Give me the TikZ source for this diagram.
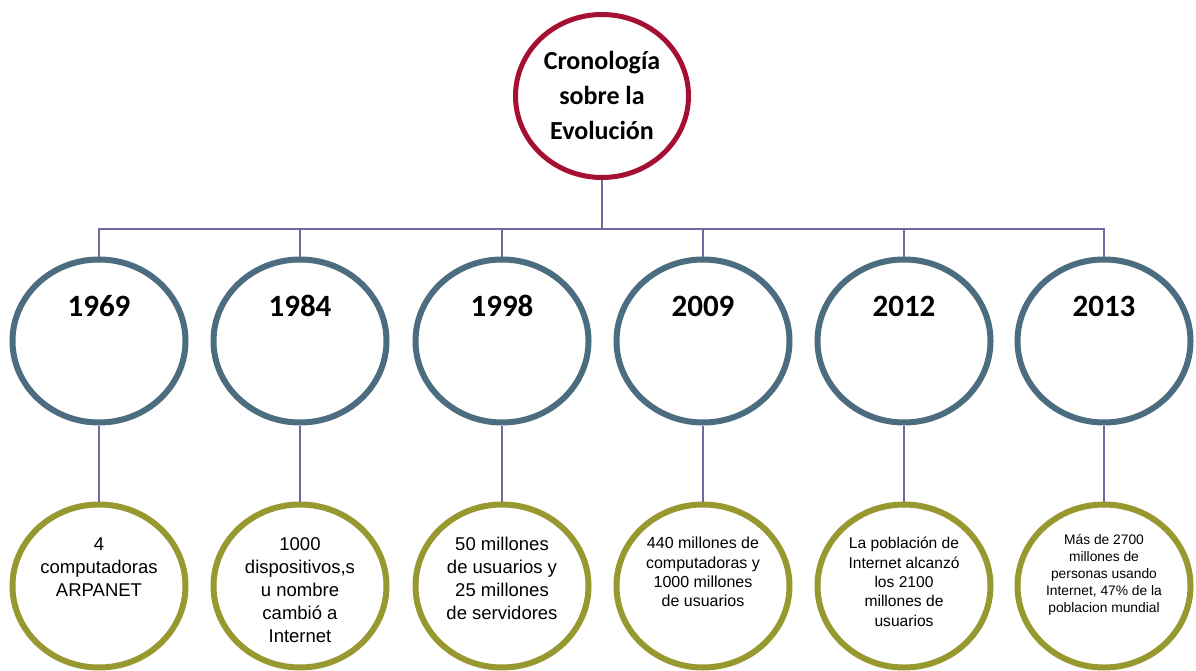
\documentclass[tikz,border=0pt]{standalone}
\usepackage{fontspec}
\setmainfont{Liberation Sans}
\newfontfamily\calib{Carlito}
\usetikzlibrary{shapes.geometric}
\definecolor{topred}{RGB}{165,15,50}
\definecolor{yearblue}{RGB}{76,108,128}
\definecolor{infoolive}{RGB}{152,152,48}
\definecolor{connline}{RGB}{110,105,160}
\tikzset{
  ring/.style={ellipse, minimum width=173, minimum height=163, inner sep=0pt, fill=white},
  topring/.style={ring, draw=topred, line width=5pt},
  yearring/.style={ring, draw=yearblue, line width=6pt},
  inforing/.style={ring, draw=infoolive, line width=6pt},
  conn/.style={draw=connline, line width=1.6pt},
  titletext/.style={font=\calib\bfseries\fontsize{26}{35}\selectfont, align=center, inner sep=0pt},
  yeartext/.style={font=\calib\bfseries\fontsize{31}{36}\selectfont, inner sep=0pt},
  infotext/.style={align=center, inner sep=0pt, anchor=north},
}
\begin{document}
\begin{tikzpicture}[x=1pt,y=-1pt]
\useasboundingbox (0,0) rectangle (1196,671);
\coordinate (hub) at (602,229);
\foreach \i/\x in {1/99,2/300,3/502,4/703,5/904,6/1104}{
  \coordinate (bc\i) at (\x,341);
  \coordinate (oc\i) at (\x,586);
}
\node[topring] (top) at (602,96) {};
\foreach \i in {1,...,6}{
  \node[yearring] (y\i) at (bc\i) {};
  \node[inforing] (o\i) at (oc\i) {};
}
\draw[conn] (top.south) -- (hub);
\draw[conn] (y1.north) |- (hub);
\draw[conn] (y6.north) |- (hub);
\foreach \i in {2,...,5}{
  \draw[conn] (y\i.north) -- (y\i.north |- hub);
}
\foreach \i in {1,...,6}{
  \draw[conn] (y\i.south) -- (o\i.north);
}
% texts
\node[titletext] (ttl) at (602,95) {Cronología\\sobre la\\Evolución};
\node[yeartext] (t1) at (99,306) {1969};
\node[yeartext] (t2) at (300,306) {1984};
\node[yeartext] (t3) at (502,306) {1998};
\node[yeartext] (t4) at (703,306) {2009};
\node[yeartext] (t5) at (904,306) {2012};
\node[yeartext] (t6) at (1104,306) {2013};
\node[infotext, font=\fontsize{18.5}{23}\selectfont] (i1) at (99,538) {4\\computadoras\\ARPANET};
\node[infotext, font=\fontsize{18.5}{23}\selectfont] (i2) at (300,537) {1000\\dispositivos,s\\u nombre\\cambió a\\Internet};
\node[infotext, font=\fontsize{18.5}{23}\selectfont] (i3) at (502,537) {50 millones\\de usuarios y\\25 millones\\de servidores};
\node[infotext, font=\fontsize{16}{19.4}\selectfont] (i4) at (703,537) {440 millones de\\computadoras y\\1000 millones\\de usuarios};
\node[infotext, font=\fontsize{15.6}{19.4}\selectfont] (i5) at (904,537) {La población de\\Internet alcanzó\\los 2100\\millones de\\usuarios};
\node[infotext, font=\fontsize{13.8}{17}\selectfont] (i6) at (1104,534) {Más de 2700\\millones de\\personas usando\\Internet, 47\% de la\\poblacion mundial};
\end{tikzpicture}
\end{document}
